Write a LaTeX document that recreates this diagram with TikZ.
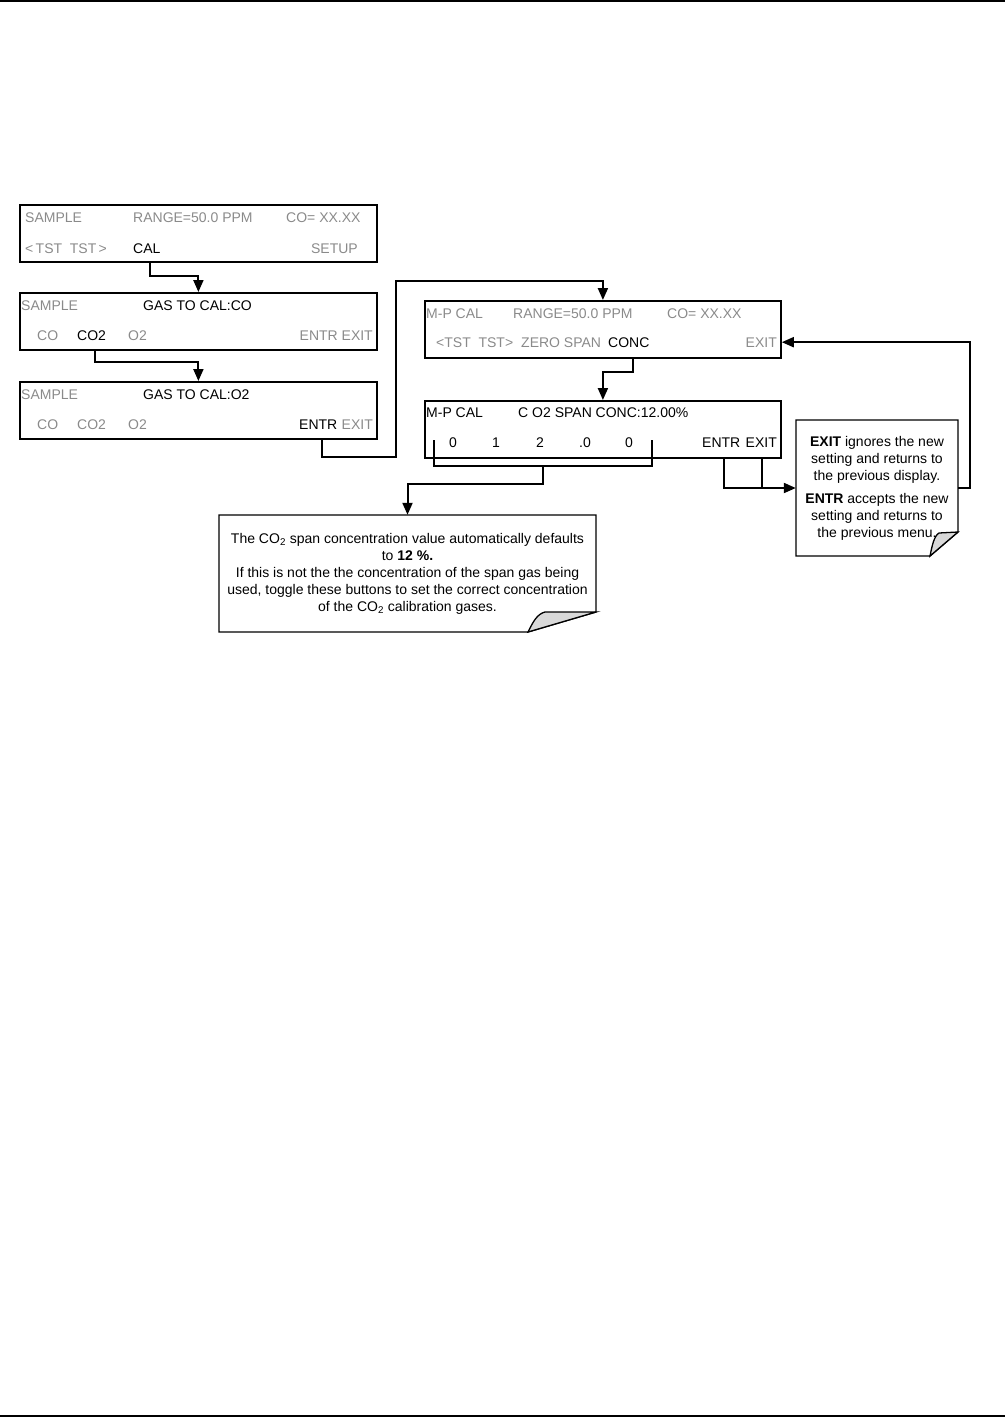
\documentclass[tikz,border=0pt]{standalone}
\usepackage{fontspec}
\setmainfont{Liberation Sans}
\usetikzlibrary{arrows.meta}
\definecolor{dimgray}{HTML}{8A8A8A}
\definecolor{flapgray}{HTML}{D9D9D9}
\tikzset{
  screen/.style={draw, line width=1.8pt, minimum width=357pt, minimum height=57pt, inner sep=0pt, anchor=north west},
  lit/.style={anchor=base west, inner sep=0pt, font=\fontsize{14}{16}\selectfont, text=black},
  dim/.style={lit, text=dimgray},
  wire/.style={line width=2pt},
  flow/.style={wire, -{Triangle[length=12pt, width=10pt]}},
  notebox/.style={align=center, inner sep=0pt, font=\fontsize{14}{17}\selectfont},
  noteline/.style={line width=1.3pt, line join=miter}
}
\begin{document}
\begin{tikzpicture}[x=1pt,y=-1pt]
  \useasboundingbox (0,0) rectangle (1005,1418);
  % page rules
  \draw[line width=1.5pt] (0,1) -- (1005,1);
  \draw[line width=1.5pt] (0,1416) -- (1005,1416);

  % screens
  \node[screen] (s1) at (19,204) {};
  \node[screen] (s2) at (19,292) {};
  \node[screen] (s3) at (19,381) {};
  \node[screen, minimum width=356pt] (s4) at (424,300) {};
  \node[screen, minimum width=356pt] (s5) at (424,400) {};

  % screen 1
  \node[dim] (s1sample) at (25,222) {SAMPLE};
  \node[dim] (s1range) at (133,222) {RANGE=50.0 PPM};
  \node[dim] (s1co) at (286,222) {CO= XX.XX};
  \node[dim] (s1tst) at (25,253) {<\,TST\ \ TST\,>};
  \node[lit] (cal) at (133,253) {CAL};
  \node[dim, anchor=base east] (s1setup) at (358,253) {SETUP};

  % screen 2
  \node[dim] (s2sample) at (21,310) {SAMPLE};
  \node[lit] (s2gas) at (143,310) {GAS TO CAL:CO};
  \node[dim] (s2co) at (37,340) {CO};
  \node[lit] (co2) at (77,340) {CO2};
  \node[dim] (s2o2) at (128,340) {O2};
  \node[dim, anchor=base east] (s2keys) at (373,340) {ENTR EXIT};

  % screen 3
  \node[dim] (s3sample) at (21,399) {SAMPLE};
  \node[lit] (s3gas) at (143,399) {GAS TO CAL:O2};
  \node[dim] (s3co) at (37,429) {CO};
  \node[dim] (s3co2) at (77,429) {CO2};
  \node[dim] (s3o2) at (128,429) {O2};
  \node[lit] (entr) at (299,429) {ENTR};
  \node[dim, anchor=base east] (s3exit) at (373,429) {EXIT};

  % screen 4
  \node[dim] (s4mp) at (426,318) {M-P CAL};
  \node[dim] (s4range) at (513,318) {RANGE=50.0 PPM};
  \node[dim] (s4co) at (667,318) {CO= XX.XX};
  \node[dim] (s4tst) at (436,347) {<TST\ \ TST>};
  \node[dim] (s4zero) at (521,347) {ZERO SPAN};
  \node[lit] (conc) at (608,347) {CONC};
  \node[dim, anchor=base east] (exit4) at (777,347) {EXIT};

  % screen 5
  \node[lit] (s5mp) at (426,417) {M-P CAL};
  \node[lit] (s5span) at (518,417) {C O2 SPAN CONC:12.00\%};
  \node[lit, anchor=base] (d1) at (453,447) {0};
  \node[lit, anchor=base] (d2) at (496,447) {1};
  \node[lit, anchor=base] (d3) at (540,447) {2};
  \node[lit, anchor=base] (d4) at (585,447) {.0};
  \node[lit, anchor=base] (d5) at (629,447) {0};
  \node[lit] (entr5) at (702,447) {ENTR};
  \node[lit, anchor=base east] (exit5) at (777,447) {EXIT};

  % notes
  \node[notebox, minimum width=377pt, minimum height=117pt] (note1) at (407.5,573.5)
    {The CO\textsubscript{2} span concentration value automatically defaults\\
     to \textbf{12 \%.}\\
     If this is not the the concentration of the span gas being\\
     used, toggle these buttons to set the correct concentration\\
     of the CO\textsubscript{2} calibration gases.};
  \draw[noteline] (219,515) -- (596,515) -- (596,612) -- (528,632) -- (219,632) -- cycle;
  \draw[noteline, fill=flapgray] (528,632) .. controls (533,622) and (537,614) .. (545,612) -- (596,612) -- cycle;

  \node[notebox, minimum width=162pt, minimum height=136pt] (note2) at (877,488)
    {\textbf{EXIT} ignores the new\\ setting and returns to\\ the previous display.\\[6pt]
     \textbf{ENTR} accepts the new\\ setting and returns to\\ the previous menu.};
  \draw[noteline] (796,420) -- (958,420) -- (958,532) -- (930,556) -- (796,556) -- cycle;
  \draw[noteline, fill=flapgray] (930,556) .. controls (932,546) and (934,536) .. (939,533) -- (958,532) -- cycle;

  % connectors
  \coordinate (jog) at (396,457);
  \coordinate (bl) at (434,440);
  \coordinate (br) at (652,440);
  \coordinate (bm) at (543,466);

  \draw[flow] ([xshift=3pt]cal |- s1.south) -- ++(0,13) -| (s2.north);
  \draw[flow] ([xshift=3pt]co2 |- s2.south) -- ++(0,11) -| (s3.north);
  \draw[flow] ([xshift=4pt]entr |- s3.south) |- (jog) -- (jog |- 0,281) -| (s4.north);
  \draw[flow] ([xshift=4pt]conc |- s4.south) -- ++(0,13) -| (s5.north);
  \draw[wire] (bl) -- ++(0,26) -| (br);
  \draw[flow] (bm) -- ++(0,18) -| (note1.north);
  \draw[flow] ([xshift=3pt]entr5 |- s5.south) |- (note2.west);
  \draw[wire] ([xshift=1pt]exit5 |- s5.south) -- ([xshift=1pt]exit5 |- note2.west);
  \draw[flow] (note2.east) -- ++(12,0) |- (s4.east |- exit4);
\end{tikzpicture}
\end{document}
